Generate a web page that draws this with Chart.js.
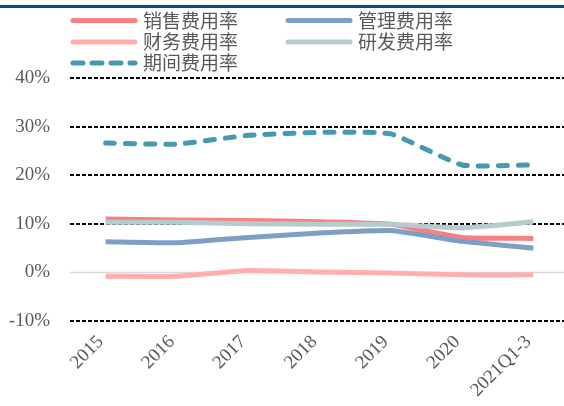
<!DOCTYPE html>
<html>
<head>
<meta charset="utf-8">
<script src="https://cdn.jsdelivr.net/npm/chart.js@4/dist/chart.umd.min.js"></script>
<style>
  html, body { margin: 0; padding: 0; background: #fff; overflow: hidden; }
  #wrap { position: relative; width: 564px; height: 406px; overflow: hidden; }
  #rule { position: absolute; left: 0; top: 5px; width: 564px; height: 3px; background: #0b4a7e; }
  canvas { position: absolute; left: 0; top: 0; }
</style>
</head>
<body>
<div id="wrap">
  <canvas id="c" width="569" height="406"></canvas>
  <div id="rule"></div>
</div>
<script>
// Expense ratios by period (%)
const categories = ['2015', '2016', '2017', '2018', '2019', '2020', '2021Q1-3'];
const salesRatio   = [11.0, 10.8, 10.7, 10.4, 9.9, 7.2, 7.0];
const adminRatio   = [6.3, 6.1, 7.2, 8.1, 8.6, 6.4, 5.0];
const financeRatio = [-0.8, -0.8, 0.4, 0.1, -0.1, -0.5, -0.5];
const rndRatio     = [10.3, 10.3, 10.0, 9.9, 9.9, 9.2, 10.4];
const periodRatio  = [26.6, 26.4, 28.2, 28.8, 28.5, 22.1, 22.1];
const seriesNames  = ['销售费用率', '管理费用率', '财务费用率', '研发费用率', '期间费用率'];
const yTicks = [-10, 0, 10, 20, 30, 40];

const TEXT_GRAY = '#595959';
const colors = ['#f98080', '#7d9fc6', '#ffafaf', '#b5cbce', '#4599b0'];

function lineSet(i, data, order, dashed) {
  return {
    label: seriesNames[i],
    data: data,
    borderColor: colors[i],
    backgroundColor: colors[i],
    borderWidth: 5,
    borderDash: dashed ? [9, 11] : [],
    borderCapStyle: dashed ? 'round' : 'butt',
    borderJoinStyle: 'round',
    pointRadius: 0,
    pointHoverRadius: 0,
    tension: 0.15,
    fill: false,
    order: order
  };
}

// Solid zero baseline under the series
const zeroLine = {
  id: 'zeroLine',
  beforeDatasetsDraw(chart) {
    const { ctx, chartArea, scales } = chart;
    const y = scales.y.getPixelForValue(0);
    ctx.save();
    ctx.strokeStyle = '#d9d9d9';
    ctx.lineWidth = 1.5;
    ctx.beginPath();
    ctx.moveTo(chartArea.left, y);
    ctx.lineTo(chartArea.right, y);
    ctx.stroke();
    ctx.restore();
  }
};

// Two-column legend above the plot
const lineLegend = {
  id: 'lineLegend',
  afterDraw(chart) {
    const { ctx } = chart;
    const slots = [[71, 20.5], [286, 20.5], [71, 42], [286, 42], [71, 63]];
    ctx.save();
    chart.data.datasets.forEach((ds, i) => {
      const [x, y] = slots[i];
      ctx.strokeStyle = ds.borderColor;
      ctx.lineWidth = 5;
      ctx.lineCap = 'round';
      ctx.setLineDash(ds.borderDash.length ? [10, 9] : []);
      ctx.beginPath();
      ctx.moveTo(x + 2, y);
      ctx.lineTo(x + 64, y);
      ctx.stroke();
      ctx.setLineDash([]);
      ctx.fillStyle = TEXT_GRAY;
      ctx.font = '19px "Noto Sans CJK SC", sans-serif';
      ctx.textBaseline = 'middle';
      ctx.textAlign = 'left';
      ctx.fillText(ds.label, x + 72, y);
    });
    ctx.restore();
  }
};

new Chart(document.getElementById('c'), {
  type: 'line',
  data: {
    labels: categories,
    datasets: [
      lineSet(0, salesRatio, 5, false),
      lineSet(1, adminRatio, 4, false),
      lineSet(2, financeRatio, 3, false),
      lineSet(3, rndRatio, 2, false),
      lineSet(4, periodRatio, 1, true)
    ]
  },
  options: {
    responsive: false,
    animation: false,
    devicePixelRatio: 1,
    layout: { padding: { top: 78, left: 0, right: 0, bottom: 0 } },
    plugins: { legend: { display: false }, tooltip: { enabled: false } },
    scales: {
      x: {
        offset: true,
        grid: { display: false, drawTicks: false },
        border: { display: false },
        ticks: {
          color: TEXT_GRAY,
          font: { family: '"Liberation Serif", "Times New Roman", serif', size: 19 },
          maxRotation: 45,
          minRotation: 45,
          padding: 10,
          labelOffset: -5,
          autoSkip: false
        },
        afterFit(scale) { scale.height = 85; }
      },
      y: {
        min: -10,
        max: 40,
        afterBuildTicks(scale) { scale.ticks = yTicks.map(v => ({ value: v })); },
        grid: {
          drawTicks: false,
          color: (c) => (c.tick && c.tick.value === 0) ? 'rgba(0,0,0,0)' : '#000',
          lineWidth: 2
        },
        border: { display: false, dash: [4, 2] },
        ticks: {
          color: TEXT_GRAY,
          font: { family: '"Liberation Serif", "Times New Roman", serif', size: 19 },
          padding: 20,
          callback: (v) => v + '%'
        },
        afterFit(scale) { scale.width = 70; }
      }
    }
  },
  plugins: [zeroLine, lineLegend]
});
</script>
</body>
</html>
